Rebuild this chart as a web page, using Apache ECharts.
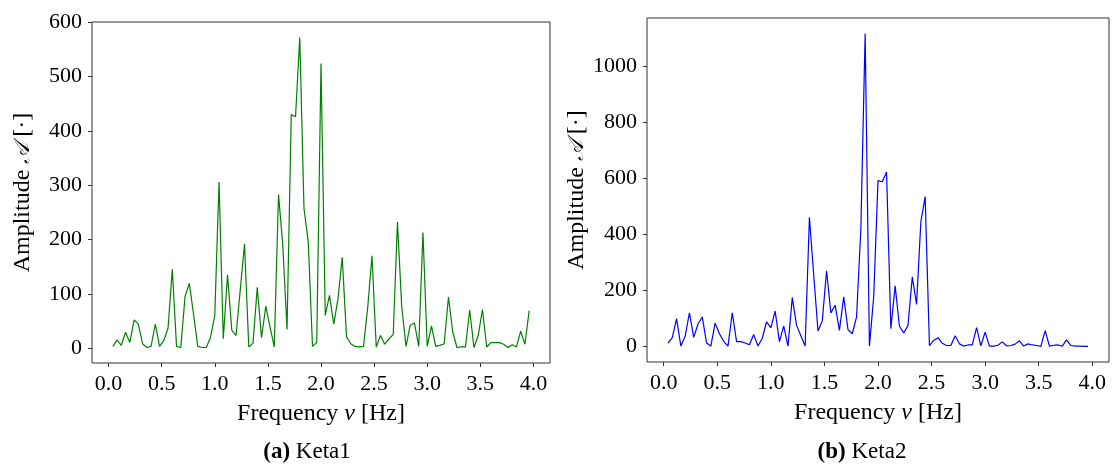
<!DOCTYPE html>
<html>
<head>
<meta charset="utf-8">
<script src="https://cdn.jsdelivr.net/npm/echarts@6/dist/echarts.min.js"></script>
<style>html,body{margin:0;padding:0;background:#fff;}#c{width:1115px;height:470px;}</style>
</head>
<body>
<div id="c"></div>
<script>
const freq = [0.04,0.08,0.12,0.16,0.20,0.24,0.28,0.32,0.36,0.40,
  0.44,0.48,0.52,0.56,0.60,0.64,0.68,0.72,0.76,0.80,
  0.84,0.88,0.92,0.96,1.00,1.04,1.08,1.12,1.16,1.20,
  1.24,1.28,1.32,1.36,1.40,1.44,1.48,1.52,1.56,1.60,
  1.64,1.68,1.72,1.76,1.80,1.84,1.88,1.92,1.96,2.00,
  2.04,2.08,2.12,2.16,2.20,2.24,2.28,2.32,2.36,2.40,
  2.44,2.48,2.52,2.56,2.60,2.64,2.68,2.72,2.76,2.80,
  2.84,2.88,2.92,2.96,3.00,3.04,3.08,3.12,3.16,3.20,
  3.24,3.28,3.32,3.36,3.40,3.44,3.48,3.52,3.56,3.60,
  3.64,3.68,3.72,3.76,3.80,3.84,3.88,3.92,3.96];
const keta1 = [3,15,5,29,10,52,44,8,1,3,
  44,3,14,37,145,3,1,95,119,62,
  3,1,1,20,60,306,17,135,33,23,
  108,192,2,9,112,19,77,39,2,283,
  190,34,430,426,572,257,195,3,10,524,
  60,97,44,91,167,21,8,3,2,3,
  75,170,2,23,7,17,25,232,76,3,
  42,46,3,213,3,41,3,5,8,94,
  30,1,2,2,70,1,23,71,2,10,
  10,10,7,1,6,2,31,7,69];
const keta2 = [12,31,99,1,36,120,32,80,105,12,
  1,83,45,18,1,120,17,17,12,6,
  42,1,29,88,66,126,17,72,1,174,
  75,38,1,461,255,55,91,270,119,147,
  57,177,60,45,105,421,1117,1,177,592,
  588,623,63,216,72,48,75,248,150,445,
  535,3,21,31,11,3,3,38,9,1,
  5,5,67,2,51,1,1,4,16,2,
  3,8,20,1,9,5,3,0,56,1,
  4,5,1,23,3,1,1,0,0];
const xTicks = [0.0,0.5,1.0,1.5,2.0,2.5,3.0,3.5,4.0];
const yTicks1 = [0,100,200,300,400,500,600];
const yTicks2 = [0,200,400,600,800,1000];
const xTitle = 'Frequency {i|ν} [Hz]';
const yTitle = 'Amplitude {c|𝒜} [·]';
const captions = [['(a)',' Keta1'],['(b)',' Keta2']];

const FONT = "'Liberation Serif', 'DejaVu Serif', serif";
const TICK = 22, NAME = 24, CAP = 23;
function range(arr){
  const mn = Math.min(...arr), mx = Math.max(...arr), m = 0.05*(mx-mn);
  return [mn-m, mx+m];
}
const xr = range(freq);
const rich = {
  i:{fontStyle:'italic', fontFamily:FONT, fontSize:NAME, color:'#000'},
  c:{fontFamily:"'DejaVu Serif','Noto Sans', serif", fontStyle:'italic', fontSize:NAME-2, color:'#000'}
};
function xAxis(gi){
  return {
    type:'value', gridIndex:gi, min:xr[0], max:xr[1],
    axisLine:{show:false, onZero:false},
    splitLine:{show:false},
    axisTick:{show:true, customValues:xTicks, length:4, lineStyle:{color:'#333', width:1}},
    axisLabel:{customValues:xTicks, formatter:v=>v.toFixed(1), fontFamily:FONT, fontSize:TICK, color:'#000', margin:10},
    name:xTitle, nameLocation:'middle', nameGap:39,
    nameTextStyle:{fontFamily:FONT, fontSize:NAME, color:'#000', rich:rich}
  };
}
function yAxis(gi, vals, ticks){
  const r = range(vals);
  return {
    type:'value', gridIndex:gi, min:r[0], max:r[1],
    axisLine:{show:false, onZero:false},
    splitLine:{show:false},
    axisTick:{show:true, customValues:ticks, length:4, lineStyle:{color:'#333', width:1}},
    axisLabel:{customValues:ticks, formatter:v=>String(v), fontFamily:FONT, fontSize:TICK, color:'#000', margin:10},
    name:yTitle, nameLocation:'middle', nameGap:57,
    nameTextStyle:{fontFamily:FONT, fontSize:NAME, color:'#000', rich:rich}
  };
}
const chart = echarts.init(document.getElementById('c'), null, {renderer:'canvas'});
chart.setOption({
  animation:false,
  backgroundColor:'#fff',
  grid:[
    {left:92, top:22, width:458, height:341, show:true, borderColor:'#333', borderWidth:1},
    {left:647, top:18, width:462, height:344, show:true, borderColor:'#333', borderWidth:1}
  ],
  xAxis:[xAxis(0), xAxis(1)],
  yAxis:[yAxis(0, keta1, yTicks1), yAxis(1, keta2, yTicks2)],
  series:[
    {type:'line', xAxisIndex:0, yAxisIndex:0, data:freq.map((f,i)=>[f,keta1[i]]), symbol:'none',
     lineStyle:{color:'#008000', width:1.2}},
    {type:'line', xAxisIndex:1, yAxisIndex:1, data:freq.map((f,i)=>[f,keta2[i]]), symbol:'none',
     lineStyle:{color:'#0000ff', width:1.2}}
  ],
  graphic:[
    {type:'text', x:307, y:452, style:{text:'{b|'+captions[0][0]+'}'+captions[0][1], align:'center', verticalAlign:'middle',
      fontFamily:FONT, fontSize:CAP, fill:'#000', rich:{b:{fontWeight:'bold', fontFamily:FONT, fontSize:CAP, fill:'#000'}}}},
    {type:'text', x:862, y:452, style:{text:'{b|'+captions[1][0]+'}'+captions[1][1], align:'center', verticalAlign:'middle',
      fontFamily:FONT, fontSize:CAP, fill:'#000', rich:{b:{fontWeight:'bold', fontFamily:FONT, fontSize:CAP, fill:'#000'}}}}
  ]
});
</script>
</body>
</html>
